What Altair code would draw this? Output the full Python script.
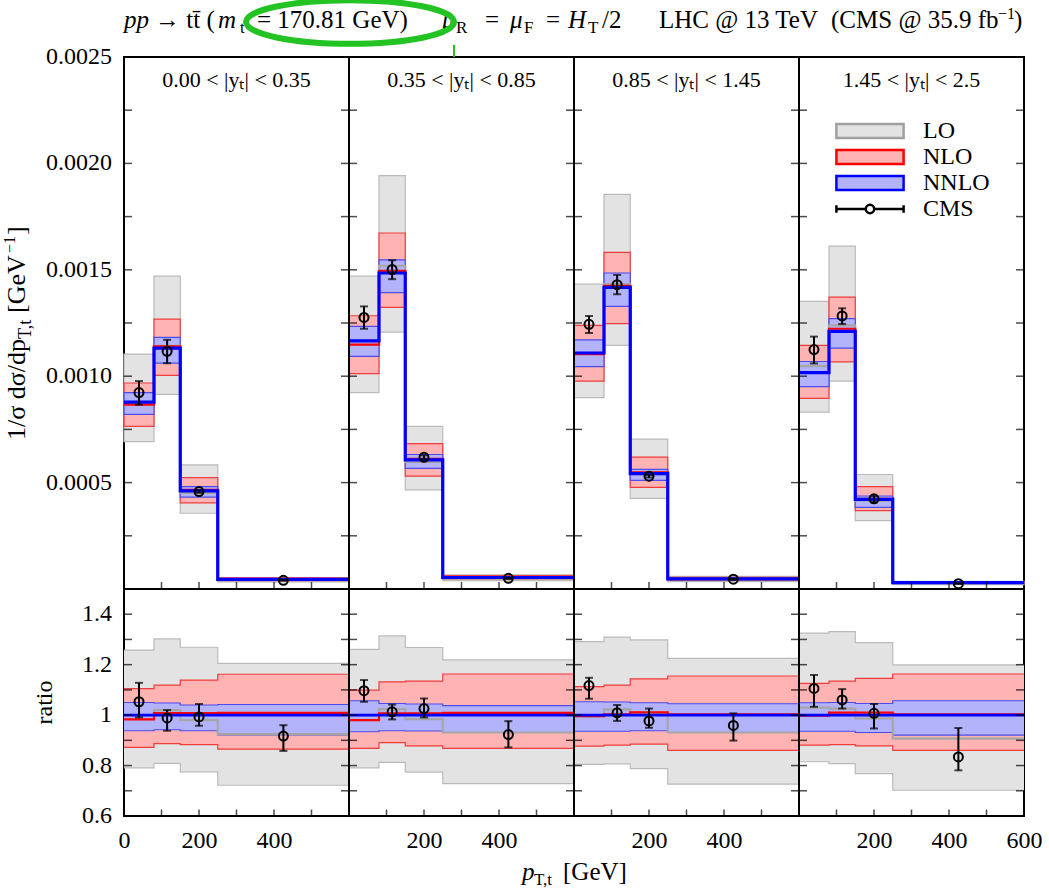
import altair as alt
import pandas as pd

# ---------------------------------------------------------------- binning
PT_EDGES = [0, 80, 150, 250, 600]            # GeV, same in every |y_t| slice
SLICE_SPAN = 600                              # each slice panel covers 0-600 GeV
N_SLICES = 4
CMS_PT = [40, 115, 200, 425]                  # marker positions of the CMS points
RAPIDITY_BINS = ["0.00 < |yₜ| < 0.35", "0.35 < |yₜ| < 0.85",
                 "0.85 < |yₜ| < 1.45", "1.45 < |yₜ| < 2.5"]
SERIES = ["LO", "NLO", "NNLO", "CMS"]

# ------------------------------- 1/sigma dsigma/dpT, units of 1e-3 GeV^-1
LO_LOW = [[0.693, 0.915, 0.356, 0.033], [0.923, 1.207, 0.466, 0.039],
          [0.899, 1.145, 0.426, 0.035], [0.831, 0.977, 0.321, 0.021]]
LO_HIGH = [[1.104, 1.470, 0.583, 0.054], [1.470, 1.943, 0.764, 0.066],
           [1.433, 1.854, 0.704, 0.059], [1.352, 1.611, 0.538, 0.036]]
LO_CENTRAL = [[0.878, 1.143, 0.452, 0.042], [1.166, 1.519, 0.597, 0.050],
              [1.104, 1.433, 0.548, 0.045], [1.047, 1.239, 0.415, 0.027]]
NLO_LOW = [[0.764, 1.004, 0.405, 0.039], [1.012, 1.323, 0.530, 0.047],
           [0.977, 1.247, 0.478, 0.041], [0.896, 1.067, 0.368, 0.026]]
NLO_HIGH = [[0.968, 1.268, 0.523, 0.052], [1.284, 1.673, 0.683, 0.063],
            [1.239, 1.582, 0.620, 0.055], [1.145, 1.372, 0.481, 0.035]]
NLO_CENTRAL = [[0.866, 1.140, 0.466, 0.045], [1.148, 1.495, 0.612, 0.0545],
               [1.104, 1.425, 0.548, 0.048], [1.015, 1.223, 0.424, 0.030]]
NNLO_LOW = [[0.821, 1.061, 0.432, 0.0415], [1.093, 1.393, 0.567, 0.050],
            [1.045, 1.328, 0.510, 0.045], [0.951, 1.132, 0.384, 0.0276]]
NNLO_HIGH = [[0.923, 1.182, 0.481, 0.047], [1.234, 1.547, 0.632, 0.056],
             [1.171, 1.485, 0.562, 0.050], [1.069, 1.271, 0.437, 0.0317]]
NNLO_CENTRAL = [[0.878, 1.132, 0.4615, 0.045], [1.166, 1.485, 0.607, 0.054],
                [1.109, 1.417, 0.5425, 0.048], [1.017, 1.211, 0.421, 0.030]]
CMS_VALUE = [[0.923, 1.117, 0.458, 0.041], [1.276, 1.501, 0.619, 0.050],
             [1.244, 1.430, 0.530, 0.046], [1.125, 1.283, 0.424, 0.025]]
CMS_LOW = [[0.866, 1.061, 0.452, 0.0385], [1.223, 1.456, 0.610, 0.047],
           [1.203, 1.385, 0.524, 0.043], [1.060, 1.245, 0.408, 0.0234]]
CMS_HIGH = [[0.977, 1.171, 0.464, 0.0435], [1.328, 1.545, 0.628, 0.053],
            [1.283, 1.476, 0.536, 0.0485], [1.186, 1.319, 0.437, 0.0285]]

# ------------------------------------------------- ratios to NNLO central
R_LO_LOW = [[0.791, 0.809, 0.775, 0.722], [0.791, 0.813, 0.774, 0.728],
            [0.805, 0.807, 0.788, 0.726], [0.815, 0.808, 0.768, 0.702]]
R_LO_HIGH = [[1.258, 1.302, 1.269, 1.205], [1.261, 1.314, 1.268, 1.219],
             [1.291, 1.309, 1.298, 1.225], [1.325, 1.331, 1.287, 1.199]]
R_LO_CENTRAL = [[1.000, 1.020, 0.980, 0.925], [1.000, 1.024, 0.984, 0.931],
                [0.995, 1.023, 1.010, 0.931], [1.030, 1.026, 0.987, 0.907]]
R_NLO_LOW = [[0.872, 0.887, 0.883, 0.865], [0.868, 0.891, 0.878, 0.868],
             [0.877, 0.881, 0.885, 0.860], [0.881, 0.883, 0.878, 0.860]]
R_NLO_HIGH = [[1.105, 1.119, 1.139, 1.162], [1.099, 1.132, 1.135, 1.163],
              [1.113, 1.119, 1.144, 1.155], [1.126, 1.135, 1.146, 1.163]]
R_NLO_CENTRAL = [[0.983, 1.008, 1.008, 1.009], [0.980, 1.007, 1.007, 1.009],
                 [0.996, 1.003, 1.011, 1.003], [0.998, 1.010, 1.010, 1.003]]
R_NNLO_LOW = [[0.938, 0.942, 0.938, 0.922], [0.934, 0.938, 0.937, 0.931],
              [0.936, 0.936, 0.938, 0.931], [0.936, 0.936, 0.931, 0.921]]
R_NNLO_HIGH = [[1.050, 1.048, 1.040, 1.042], [1.057, 1.046, 1.044, 1.038],
               [1.053, 1.052, 1.049, 1.045], [1.049, 1.050, 1.046, 1.057]]
R_NNLO_CENTRAL = [[1.0, 1.0, 1.0, 1.0], [1.0, 1.0, 1.0, 1.0],
                  [1.0, 1.0, 1.0, 1.0], [1.0, 1.0, 1.0, 1.0]]
R_CMS_VALUE = [[1.053, 0.989, 0.993, 0.917], [1.097, 1.013, 1.026, 0.923],
               [1.117, 1.009, 0.977, 0.959], [1.106, 1.060, 1.007, 0.834]]
R_CMS_LOW = [[0.991, 0.938, 0.958, 0.858], [1.053, 0.983, 0.991, 0.872],
             [1.065, 0.977, 0.950, 0.899], [1.033, 1.026, 0.947, 0.781]]
R_CMS_HIGH = [[1.128, 1.020, 1.044, 0.960], [1.139, 1.042, 1.066, 0.976],
              [1.148, 1.040, 1.026, 1.007], [1.159, 1.103, 1.044, 0.949]]

# ---------------------------------------------------------- guide ticks
MAIN_Y_TICKS = [0.00025, 0.0005, 0.00075, 0.001, 0.00125, 0.0015, 0.00175, 0.002, 0.00225]
MAIN_Y_LABELS = [0.0005, 0.001, 0.0015, 0.002, 0.0025]
RATIO_Y_TICKS = [0.7, 0.8, 0.9, 1.0, 1.1, 1.2, 1.3, 1.4]
RATIO_Y_LABELS = [0.6, 0.8, 1.0, 1.2, 1.4]
LOCAL_X_TICKS = [100, 200, 300, 400, 500]
X_LABELS = [0, 200, 400, 800, 1000, 1400, 1600, 2000, 2200, 2400]

UNIT = 1e-3
FONT = "Liberation Serif"

# ---------------------------------------------------------------- styles
LO_FILL, LO_EDGE, LO_LINE = "#e3e3e3", "#bababa", "#a6a6a6"
NLO_FILL, NLO_EDGE, NLO_LINE = "#ffb3b3", "#f03c3c", "#ff0000"
NNLO_FILL, NNLO_EDGE, NNLO_LINE = "#b3b3fb", "#4b4bf0", "#0000ff"
GREEN = "#22c322"

PAGE_W, PAGE_H = 1049, 890
MAIN_H, RATIO_H, PANEL_W = 532, 227, 900
PLOT_H = MAIN_H + RATIO_H
LEFT, TOP = 124, 57        # page offset of the plot area

# the upper distribution and the ratio strip share one plot area: each gets
# its own y scale, stretched so that it fills its own band of the height
YM_TOP, YR_LOW, YR_TOP = 0.0025, 0.6, 1.5
YM_SCALE = alt.Scale(domain=[-YM_TOP * RATIO_H / MAIN_H, YM_TOP], nice=False, zero=False)
YR_SCALE = alt.Scale(domain=[YR_LOW, YR_LOW + (YR_TOP - YR_LOW) * PLOT_H / RATIO_H],
                     nice=False, zero=False)
X_SCALE = alt.Scale(domain=[0, N_SLICES * SLICE_SPAN], nice=False, zero=False)
X_AXIS = alt.Axis(values=X_LABELS, title=None, ticks=False, tickSize=0, domain=False,
                  grid=False, labelPadding=12, labelFlush=False, labelOverlap=False,
                  labelExpr="datum.value == 2400 ? '600' : format(datum.value % 600, 'd')")


def xq(f):
    return alt.X(f"{f}:Q", scale=X_SCALE, axis=X_AXIS)


def ym(f):
    return alt.Y(f"{f}:Q", scale=YM_SCALE, axis=None)


def yr(f):
    return alt.Y(f"{f}:Q", scale=YR_SCALE, axis=None)


# ---------------------------------------------------------------- tables
def box_table(low, high):
    rows = []
    for s in range(N_SLICES):
        off = s * SLICE_SPAN
        for i in range(4):
            rows.append({"slice": s, "x0": PT_EDGES[i] + off, "x1": PT_EDGES[i + 1] + off,
                         "lo": low[s][i] * UNIT, "hi": high[s][i] * UNIT})
    return pd.DataFrame(rows)


def step_table(cols, scale=1.0):
    rows = []
    for s in range(N_SLICES):
        off = s * SLICE_SPAN
        for j, edge in enumerate(PT_EDGES):
            i = min(j, 3)
            row = {"slice": s, "x": edge + off}
            for name, arr in cols.items():
                row[name] = arr[s][i] * scale
            rows.append(row)
    return pd.DataFrame(rows)


def point_table(val, low, high, scale=1.0):
    rows = []
    for s in range(N_SLICES):
        for i in range(4):
            rows.append({"slice": s, "x": CMS_PT[i] + s * SLICE_SPAN, "v": val[s][i] * scale,
                         "lo": low[s][i] * scale, "hi": high[s][i] * scale})
    return pd.DataFrame(rows)


def tick_table(xs, ys):
    return pd.DataFrame([{"x": x, "v": y} for x in xs for y in ys])


def px_text(rows, italic=False, angle=0, align="left"):
    df = pd.DataFrame(rows, columns=["text", "px", "py", "size"])
    kw = dict(font=FONT, align=align, baseline="alphabetic", color="black")
    if italic:
        kw["fontStyle"] = "italic"
    if angle:
        kw["angle"] = angle
    return alt.Chart(df).mark_text(**kw).encode(
        x=alt.X("px:Q", scale=None), y=alt.Y("py:Q", scale=None),
        text="text:N", size=alt.Size("size:Q", scale=None))


def cms_layers(tbl, yf):
    base = alt.Chart(tbl)
    return [
        base.mark_rule(color="black", strokeWidth=2).encode(x=xq("x"), y=yf("lo"), y2="hi"),
        base.mark_tick(orient="horizontal", size=8, thickness=2, color="black").encode(x=xq("x"), y=yf("lo")),
        base.mark_tick(orient="horizontal", size=8, thickness=2, color="black").encode(x=xq("x"), y=yf("hi")),
        base.mark_point(shape="circle", size=81, strokeWidth=2, color="black", filled=False,
                        opacity=1).encode(x=xq("x"), y=yf("v")),
    ]


def y_labels(values, texts, yf):
    df = pd.DataFrame({"v": values, "label": texts})
    return alt.Chart(df).mark_text(font=FONT, fontSize=24, align="right", baseline="middle",
                                   dx=-12, color="black").encode(
        x=alt.value(0), y=yf("v"), text="label:N")


EDGES = [s * SLICE_SPAN for s in range(N_SLICES + 1)]
X_TICKS = [t + s * SLICE_SPAN for s in range(N_SLICES) for t in LOCAL_X_TICKS]

layers = []

# ------------------------------------------------------------ upper panel
for low, high, fill, edge in [(LO_LOW, LO_HIGH, LO_FILL, LO_EDGE),
                              (NLO_LOW, NLO_HIGH, NLO_FILL, NLO_EDGE),
                              (NNLO_LOW, NNLO_HIGH, NNLO_FILL, NNLO_EDGE)]:
    layers.append(alt.Chart(box_table(low, high)).mark_rect(
        fill=fill, stroke=edge, strokeWidth=1.2).encode(x=xq("x0"), x2="x1", y=ym("lo"), y2="hi"))

for central, color, width in [(LO_CENTRAL, LO_LINE, 2.2), (NLO_CENTRAL, NLO_LINE, 2.2),
                              (NNLO_CENTRAL, NNLO_LINE, 3.2)]:
    layers.append(alt.Chart(step_table({"v": central}, UNIT)).mark_line(
        interpolate="step-after", color=color, strokeWidth=width
    ).encode(x=xq("x"), y=ym("v"), detail="slice:N"))

layers += cms_layers(point_table(CMS_VALUE, CMS_LOW, CMS_HIGH, UNIT), ym)

slice_titles = pd.DataFrame({"x": [SLICE_SPAN / 2 + s * SLICE_SPAN for s in range(N_SLICES)],
                             "y": [0.00239] * N_SLICES, "label": RAPIDITY_BINS})
layers.append(alt.Chart(slice_titles).mark_text(
    font=FONT, fontSize=22, baseline="middle", color="black"
).encode(x=xq("x"), y=ym("y"), text="label:N"))

# ------------------------------------------------------------ ratio strip
for low, high, fill, edge in [(R_LO_LOW, R_LO_HIGH, LO_FILL, LO_EDGE),
                              (R_NLO_LOW, R_NLO_HIGH, NLO_FILL, NLO_EDGE),
                              (R_NNLO_LOW, R_NNLO_HIGH, NNLO_FILL, NNLO_EDGE)]:
    base = alt.Chart(step_table({"lo": low, "hi": high}))
    layers.append(base.mark_area(interpolate="step-after", color=fill, opacity=1).encode(
        x=xq("x"), y=yr("lo"), y2="hi", detail="slice:N"))
    for f in ("lo", "hi"):
        layers.append(base.mark_line(interpolate="step-after", color=edge, strokeWidth=1.2).encode(
            x=xq("x"), y=yr(f), detail="slice:N"))

for central, color, width in [(R_LO_CENTRAL, LO_LINE, 2.2), (R_NLO_CENTRAL, NLO_LINE, 2.2),
                              (R_NNLO_CENTRAL, NNLO_LINE, 2.6)]:
    layers.append(alt.Chart(step_table({"v": central})).mark_line(
        interpolate="step-after", color=color, strokeWidth=width
    ).encode(x=xq("x"), y=yr("v"), detail="slice:N"))

layers += cms_layers(point_table(R_CMS_VALUE, R_CMS_LOW, R_CMS_HIGH), yr)

# ------------------------------------------------------ frame and ticks
layers += [
    # inward ticks on every slice edge, both panels
    alt.Chart(tick_table(EDGES, MAIN_Y_TICKS)).mark_tick(
        orient="horizontal", size=16, thickness=1.5, color="black", clip=True
    ).encode(x=xq("x"), y=ym("v")),
    alt.Chart(tick_table(EDGES, RATIO_Y_TICKS)).mark_tick(
        orient="horizontal", size=16, thickness=1.5, color="black", clip=True
    ).encode(x=xq("x"), y=yr("v")),
    # upward ticks on the bottom edge of each panel
    alt.Chart(tick_table(X_TICKS, [0])).mark_tick(
        orient="vertical", size=7, yOffset=-3.5, thickness=1.5, color="black"
    ).encode(x=xq("x"), y=ym("v")),
    alt.Chart(tick_table(X_TICKS, [YR_LOW])).mark_tick(
        orient="vertical", size=13, thickness=1.5, color="black", clip=True
    ).encode(x=xq("x"), y=yr("v")),
    # slice separators and the border between the two panels
    alt.Chart(pd.DataFrame({"x": EDGES[1:-1]})).mark_rule(
        color="black", strokeWidth=2).encode(x=xq("x")),
    alt.Chart(pd.DataFrame({"v": [0.0]})).mark_rule(
        color="black", strokeWidth=2).encode(y=ym("v")),
    y_labels(MAIN_Y_LABELS, [f"{v:.4f}" for v in MAIN_Y_LABELS], ym),
    y_labels(RATIO_Y_LABELS, ["0.6", "0.8", "1", "1.2", "1.4"], yr),
]

# legend built from the library's own legend machinery
BOX = "M-4.8,-1H4.8V1H-4.8Z"
CMS_SYMBOL = ("M-4.8,0H-0.6M0.6,0H4.8M-4.8,-0.55V0.55M4.8,-0.55V0.55"
              "M0.6,0A0.6,0.6 0 1,1 -0.6,0A0.6,0.6 0 1,1 0.6,0Z")
LEG = alt.Legend(title=None, orient="none", legendX=734, legendY=62, symbolSize=196,
                 symbolStrokeWidth=2.5, labelFont=FONT, labelFontSize=24, labelColor="black",
                 labelOffset=41, rowPadding=2, padding=0, symbolOffset=0, labelLimit=300)
layers.append(alt.Chart(pd.DataFrame({"series": SERIES})).transform_filter("false").mark_point(
    filled=True, opacity=1
).encode(
    shape=alt.Shape("series:N", scale=alt.Scale(domain=SERIES, range=[BOX, BOX, BOX, CMS_SYMBOL]), legend=LEG),
    fill=alt.Fill("series:N", scale=alt.Scale(domain=SERIES, range=[LO_FILL, NLO_FILL, NNLO_FILL, "white"]), legend=LEG),
    stroke=alt.Stroke("series:N", scale=alt.Scale(domain=SERIES, range=["#a0a0a0", "#ff0000", "#0000ff", "black"]), legend=LEG),
))

# heading line above the panels (page x, baseline offset, size)
BASE = -29
title_normal = [
    ("→ tt̄ (", 155 - LEFT, BASE, 25),
    ("t", 240 - LEFT, BASE + 5, 17),
    ("= 170.81 GeV)", 257 - LEFT, BASE, 25),
    ("R", 456 - LEFT, BASE + 5, 17),
    ("=", 485 - LEFT, BASE, 25),
    ("F", 524 - LEFT, BASE + 5, 17),
    ("=", 546 - LEFT, BASE, 25),
    ("T", 588 - LEFT, BASE + 5, 17),
    ("/2", 602 - LEFT, BASE, 25),
    ("LHC @ 13 TeV", 659 - LEFT, BASE, 25),
    ("(CMS @ 35.9 fb", 831 - LEFT, BASE, 25),
    ("−1", 998 - LEFT, BASE - 9, 16),
    (")", 1014 - LEFT, BASE, 25),
]
title_italic = [
    ("pp", 124 - LEFT, BASE, 25),
    ("m", 218 - LEFT, BASE, 25),
    ("μ", 442 - LEFT, BASE, 25),
    ("μ", 510 - LEFT, BASE, 25),
    ("H", 568 - LEFT, BASE, 25),
]
layers.append(px_text(title_normal))
layers.append(px_text(title_italic, italic=True))

# vertical axis titles
ytitle = [
    ("1/σ dσ/dp", -99, 440 - TOP, 26),
    ("T,t", -93, 339 - TOP, 18),
    ("[GeV", -99, 313 - TOP, 26),
    ("−1", -109, 253 - TOP, 16),
    ("]", -99, 235 - TOP, 26),
]
layers.append(px_text(ytitle, angle=270))
layers.append(px_text([("ratio", -72, MAIN_H + RATIO_H / 2, 24)], angle=270, align="center"))

# horizontal axis title
layers.append(px_text([("p", 522 - LEFT, 880 - TOP, 25)], italic=True))
layers.append(px_text([("T,t", 534 - LEFT, 885 - TOP, 17), ("[GeV]", 563 - LEFT, 880 - TOP, 25)]))

# hand-drawn highlight around the top-quark mass
layers.append(alt.Chart(pd.DataFrame({"px": [350 - LEFT], "py": [22 - TOP]})).mark_point(
    shape="M1,0A1,0.21 0 1,1 -1,0A1,0.21 0 1,1 1,0Z", size=208 * 208, filled=False,
    stroke=GREEN, strokeWidth=6, opacity=1
).encode(x=alt.X("px:Q", scale=None), y=alt.Y("py:Q", scale=None)))
layers.append(alt.Chart(pd.DataFrame({"px": [454 - LEFT], "py": [45 - TOP], "py2": [0]})).mark_rule(
    color=GREEN, strokeWidth=2).encode(x=alt.X("px:Q", scale=None), y=alt.Y("py:Q", scale=None), y2="py2"))

chart = alt.layer(*layers).resolve_scale(y="independent").properties(
    width=PANEL_W, height=PLOT_H,
    padding={"left": LEFT, "top": TOP,
             "right": PAGE_W - LEFT - PANEL_W, "bottom": PAGE_H - TOP - PLOT_H},
    autosize=alt.AutoSizeParams(type="none"),
).configure_view(stroke="black", strokeWidth=2).configure_axis(
    labelFont=FONT, labelFontSize=24, labelColor="black", grid=False
)

chart.save("out.html", embed_options={"renderer": "svg", "actions": False})
